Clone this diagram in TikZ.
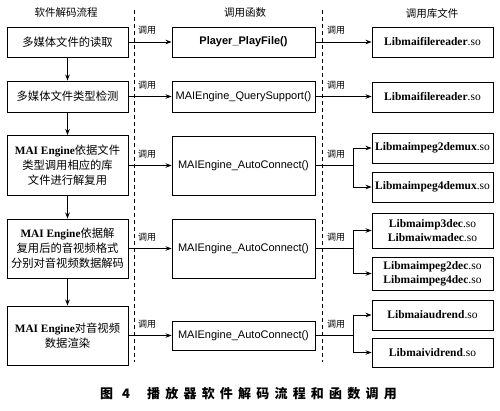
\documentclass[tikz,border=0pt]{standalone}
\usepackage{fontspec}
\setmainfont{Liberation Serif}
\setsansfont{Liberation Sans}
\newfontfamily\cjk{Noto Sans CJK SC}
\newfontfamily\capfont[LetterSpace=40]{Noto Sans CJK SC}
\usetikzlibrary{arrows.meta}
\begin{document}
\begin{tikzpicture}[x=1pt,y=-1pt,
  box/.style={draw, line width=0.9pt, inner sep=0pt, align=center},
  lbox/.style={box, minimum width=121pt, font=\fontsize{11.3}{15}\selectfont},
  mbox/.style={box, minimum width=143pt, font=\sffamily\fontsize{11}{12}\selectfont},
  rbox/.style={box, minimum width=121pt, font=\fontsize{11.5}{14}\selectfont},
  arr/.style={line width=0.8pt, -{Stealth[length=6pt,width=4.5pt]}},
  conn/.style={line width=0.8pt},
  dline/.style={line width=0.7pt, dash pattern=on 4pt off 3pt},
  lab/.style={inner sep=0pt, anchor=base west, font=\cjk\fontsize{9}{10}\selectfont},
  head/.style={inner sep=0pt, font=\cjk\fontsize{10.5}{12}\selectfont}
]
\useasboundingbox (0,0) rectangle (500,410);
\fill[white] (0,0) rectangle (500,410);

% headers
\node[head] (h1) at (66,13) {软件解码流程};
\node[head] (h2) at (245,13) {调用函数};
\node[head] (h3) at (432,13) {调用库文件};

% dashed separators
\coordinate (d1t) at (134,10); \coordinate (d1b) at (134,362);
\coordinate (d2t) at (322,10); \coordinate (d2b) at (322,362);
\draw[dline] (d1t) -- (d1b);
\draw[dline] (d2t) -- (d2b);

% left column
\node[lbox, minimum height=30pt] (L1) at (67.5,42) {\cjk 多媒体文件的读取};
\node[lbox, minimum height=31pt] (L2) at (67.5,96.5) {\cjk 多媒体文件类型检测};
\node[lbox, minimum height=60pt] (L3) at (67.5,165.5) {{\bfseries MAI Engine}{\cjk 依据文件}\\{\cjk 类型调用相应的库}\\{\cjk 文件进行解复用}};
\node[lbox, minimum height=59pt] (L4) at (67.5,248.5) {{\bfseries MAI Engine}{\cjk 依据解}\\{\cjk 复用后的音视频格式}\\{\cjk 分别对音视频数据解码}};
\node[lbox, minimum height=59pt] (L5) at (67.5,335.5) {{\bfseries MAI Engine}{\cjk 对音视频}\\{\cjk 数据渲染}};

% middle column
\node[mbox, minimum height=30pt] (M1) at (243.5,42) {\bfseries Player\_PlayFile()};
\node[mbox, minimum height=31pt] (M2) at (243.5,96.5) {MAIEngine\_QuerySupport()};
\node[mbox, minimum height=59pt] (M3) at (243.5,165.5) {MAIEngine\_AutoConnect()};
\node[mbox, minimum height=59pt] (M4) at (243.5,248.5) {MAIEngine\_AutoConnect()};
\node[mbox, minimum height=29pt] (M5) at (243.5,335.5) {MAIEngine\_AutoConnect()};

% right column
\node[rbox, minimum height=30pt] (R1) at (432.5,42) {\textbf{Libmaifilereader}.so};
\node[rbox, minimum height=30pt] (R2) at (432.5,97) {\textbf{Libmaifilereader}.so};
\node[rbox, minimum height=30pt] (R3a) at (432.5,148) {\textbf{Libmaimpeg2demux}.so};
\node[rbox, minimum height=30pt] (R3b) at (432.5,187) {\textbf{Libmaimpeg4demux}.so};
\node[rbox, minimum height=35pt] (R4a) at (432.5,230.5) {\textbf{Libmaimp3dec}.so\\\textbf{Libmaiwmadec}.so};
\node[rbox, minimum height=33pt] (R4b) at (432.5,273.5) {\textbf{Libmaimpeg2dec}.so\\\textbf{Libmaimpeg4dec}.so};
\node[rbox, minimum height=30pt] (R5a) at (432.5,315) {\textbf{Libmaiaudrend}.so};
\node[rbox, minimum height=29pt] (R5b) at (432.5,352.5) {\textbf{Libmaividrend}.so};

% vertical flow arrows
\draw[arr] (L1.south) -- (L2.north);
\draw[arr] (L2.south) -- (L3.north);
\draw[arr] (L3.south) -- (L4.north);
\draw[arr] (L4.south) -- (L5.north);

% left-to-middle calls
\draw[arr] (L1.east) -- (M1.west);
\draw[arr] (L2.east) -- (M2.west);
\draw[arr] (L3.east) -- (M3.west);
\draw[arr] (L4.east) -- (M4.west);
\draw[arr] (L5.east) -- (M5.west);

% middle-to-right calls
\draw[arr] (M1.east) -- (R1.west);
\draw[arr] (M2.east) -- (R2.west |- M2.east);
\coordinate (b3) at (353,165.5);
\coordinate (b4) at (353,248.5);
\coordinate (b5) at (353,335.5);
\draw[conn] (M3.east) -- (b3);
\draw[arr] (b3) |- (R3a.west);
\draw[arr] (b3) |- (R3b.west);
\draw[conn] (M4.east) -- (b4);
\draw[arr] (b4) |- (R4a.west);
\draw[arr] (b4) |- (R4b.west);
\draw[conn] (M5.east) -- (b5);
\draw[arr] (b5) |- (R5a.west);
\draw[arr] (b5) |- (R5b.west);

% labels
\node[lab] (la1) at (138,33.5) {调用};
\node[lab] (la2) at (138,88) {调用};
\node[lab] (la3) at (138,157) {调用};
\node[lab] (la4) at (138,240) {调用};
\node[lab] (la5) at (138,327) {调用};
\node[lab] (lb1) at (327,33.5) {调用};
\node[lab] (lb2) at (327,88) {调用};
\node[lab] (lb3) at (327,157) {调用};
\node[lab] (lb4) at (327,240) {调用};
\node[lab] (lb5) at (327,327) {调用};

% caption
\node[inner sep=0pt, anchor=base west, font=\cjk\bfseries\fontsize{13}{14}\selectfont] (cap1) at (100,398) {图\hspace{9pt}4};
\node[inner sep=0pt, anchor=base west, font=\capfont\bfseries\fontsize{13}{14}\selectfont] (cap2) at (147,398) {播放器软件解码流程和函数调用};
\end{tikzpicture}
\end{document}
